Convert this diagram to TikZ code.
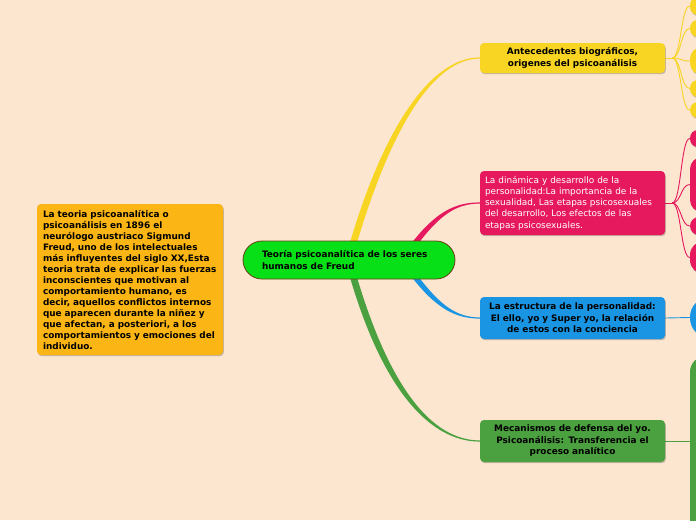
\documentclass[tikz,border=0pt]{standalone}
\usepackage{fontspec}
\newfontfamily\mapa{DejaVu Sans}
\usetikzlibrary{calc,shadows}
\definecolor{fondo}{HTML}{FCE6D0}
\definecolor{amarillo}{HTML}{F8D423}
\definecolor{rosa}{HTML}{E6195E}
\definecolor{azul}{HTML}{1A95E3}
\definecolor{verde}{HTML}{4BA03F}
\definecolor{verdecentro}{HTML}{07E016}
\definecolor{marron}{HTML}{6B3E16}
\definecolor{naranja}{HTML}{FBB615}
\pgfdeclarelayer{fondocapa}
\pgfdeclarelayer{ramas}
\pgfsetlayers{fondocapa,ramas,main}
\tikzset{
	sombra/.style={drop shadow={shadow xshift=0.8pt, shadow yshift=-1.2pt, opacity=0.22, fill=black}},
	tema/.style={rectangle, rounded corners=4pt, sombra, minimum width=185pt, text width=175pt,
		inner xsep=5pt, inner ysep=3pt, align=center, font=\mapa\bfseries\fontsize{8.9}{11.5}\selectfont},
	sub/.style={rectangle, sombra, minimum width=30pt, inner sep=0pt},
	rama/.style={line width=0.9pt}
}
\begin{document}
\begin{tikzpicture}[x=1pt, y=-1pt]
\useasboundingbox (0,0) rectangle (696,520);
\clip (0,0) rectangle (696,520);
\begin{pgfonlayer}{fondocapa}
	\fill[fondo] (0,0) rectangle (696,520);
\end{pgfonlayer}

% nota de la izquierda
\node[rectangle, rounded corners=4pt, sombra, fill=naranja, minimum width=186pt, minimum height=151pt,
	text width=174pt, inner xsep=6pt, align=left, font=\mapa\bfseries\fontsize{8.9}{11}\selectfont]
	(nota) at (130,279.5) {La teoria psicoanalítica o\\psicoanálisis en 1896 el\\neurólogo austriaco Sigmund\\Freud, uno de los intelectuales\\más influyentes del siglo XX,Esta\\teoria trata de explicar las fuerzas\\inconscientes que motivan al\\comportamiento humano, es\\decir, aquellos conflictos internos\\que aparecen durante la niñez y\\que afectan, a posteriori, a los\\comportamientos y emociones del\\individuo.};

% tema central
\node[rectangle, rounded corners=19pt, draw=marron, line width=0.8pt, fill=verdecentro,
	minimum width=212pt, minimum height=38pt, text width=174pt, inner xsep=19pt, align=left,
	font=\mapa\bfseries\fontsize{8.9}{11.5}\selectfont]
	(teoria) at (349,260) {Teoría psicoanalítica de los seres\\humanos de Freud};

% temas principales
\node[tema, fill=amarillo, minimum height=30pt] (ya) at (572.5,58) {Antecedentes biográficos,\\ origenes del psicoanálisis};
\node[tema, fill=rosa, minimum height=64pt, align=left, text=white,
	font=\mapa\fontsize{8.9}{11.3}\selectfont] (pa) at (572.5,203)
	{La dinámica y desarrollo de la\\personalidad:La importancia de la\\sexualidad, Las etapas psicosexuales\\del desarrollo, Los efectos de las\\etapas psicosexuales.};
\node[tema, fill=azul, minimum height=42pt] (ba) at (572.5,318) {La estructura de la personalidad:\\El ello, yo y Super yo, la relación\\de estos con la conciencia};
\node[tema, fill=verde, minimum height=42pt] (ga) at (572.5,441) {Mecanismos de defensa del yo.\\Psicoanálisis: Transferencia el\\proceso analítico};

% subtemas (cortados por el borde)
\coordinate (yj) at ($(ya.east)+(7,0)$);
\coordinate (pj) at ($(pa.east)+(7,0)$);
\foreach \nm / \y / \h / \r in {a1/6/18/8, a2/28.5/17/8, a3/61/28/12, a4/88.5/17/8, a5/110/16/8} {
	\node[sub, fill=amarillo, minimum height=\h pt, rounded corners=\r pt] (\nm) at (705,\y) {};
	\begin{pgfonlayer}{ramas}
		\draw[amarillo, rama] (yj) .. controls +(9,0) and +(-9,0) .. (\nm.west);
	\end{pgfonlayer}
}
\foreach \nm / \y / \h / \r in {r1/138.5/17/8, r2/184.5/55/12, r3/226/18/9, r4/257.5/33/14} {
	\node[sub, fill=rosa, minimum height=\h pt, rounded corners=\r pt] (\nm) at (705,\y) {};
	\begin{pgfonlayer}{ramas}
		\draw[rosa, rama] (pj) .. controls +(9,0) and +(-9,0) .. (\nm.west);
	\end{pgfonlayer}
}
\node[sub, fill=azul, minimum width=44pt, minimum height=41pt, rounded corners=20pt] (z1) at (712,317.5) {};
\node[sub, fill=verde, minimum height=204pt, rounded corners=16pt] (v1) at (705,458) {};

\begin{pgfonlayer}{ramas}
	\draw[amarillo, rama] (ya.east) -- (yj);
	\draw[rosa, rama] (pa.east) -- (pj);
	\draw[azul, rama] (ba.east) -- (z1.west);
	\draw[verde, rama] (ga.east) -- (ga.east -| v1.west);
	% ramas del tema central
	\fill[amarillo] ($(teoria.north)+(1,2)$) .. controls (383,130) and (430,57.4) .. ($(ya.west)+(0,-0.6)$)
		-- ($(ya.west)+(0,0.6)$) .. controls (432,58.6) and (390,132) .. ($(teoria.north)+(8,2)$) -- cycle;
	\fill[rosa] ($(teoria.north)+(63,2)$) .. controls (436,212) and (455,202.4) .. ($(pa.west)+(0,-0.6)$)
		-- ($(pa.west)+(0,0.6)$) .. controls (457,203.6) and (441,214) .. ($(teoria.north)+(70,2)$) -- cycle;
	\fill[azul] ($(teoria.south)+(63,-2)$) .. controls (436,308) and (455,318.6) .. ($(ba.west)+(0,0.6)$)
		-- ($(ba.west)+(0,-0.6)$) .. controls (457,317.4) and (441,306) .. ($(teoria.south)+(70,-2)$) -- cycle;
	\fill[verde] ($(teoria.south)+(1,-2)$) .. controls (383,390) and (430,441.6) .. ($(ga.west)+(0,0.6)$)
		-- ($(ga.west)+(0,-0.6)$) .. controls (432,440.4) and (390,388) .. ($(teoria.south)+(8,-2)$) -- cycle;
\end{pgfonlayer}
\end{tikzpicture}
\end{document}
